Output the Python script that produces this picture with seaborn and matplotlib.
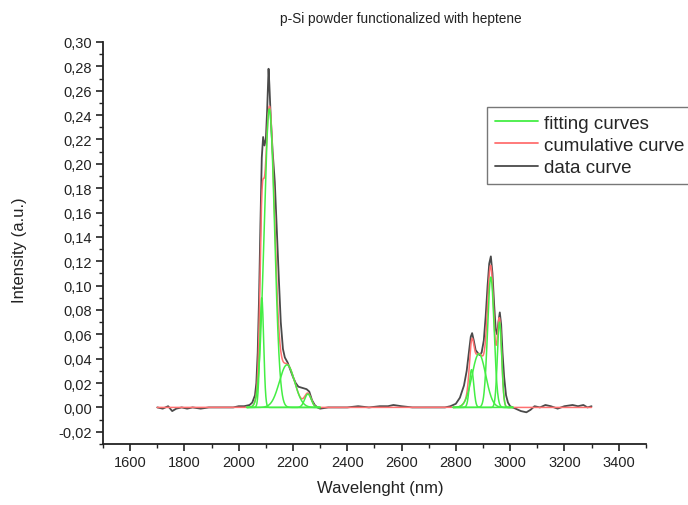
import numpy as np
import pandas as pd
import matplotlib
matplotlib.use("Agg")
import matplotlib.pyplot as plt
import seaborn as sns
from matplotlib.lines import Line2D
from matplotlib.ticker import MultipleLocator, FuncFormatter

# ---- data ----
# fitted peaks: centre (nm), height (a.u.), width sigma (nm)
peak_centers = [2085, 2113, 2178, 2255, 2858, 2885, 2929, 2961]
peak_heights = [0.090, 0.245, 0.035, 0.011, 0.031, 0.044, 0.107, 0.070]
peak_sigmas = [7, 19, 28, 12, 8, 25, 12, 8]
peak_ranges = [(2030, 2300)] * 4 + [(2790, 3010)] * 4

# measured spectrum (data curve)
data_wl = [1700, 1720, 1740, 1755, 1770, 1790, 1810, 1830, 1860, 1890, 1920, 1950,
           1980, 2000, 2020, 2040, 2050, 2060, 2065, 2070, 2075, 2080, 2085, 2090,
           2095, 2100, 2105, 2110, 2113, 2118, 2125, 2133, 2140, 2148, 2155, 2163,
           2170, 2180, 2190, 2200, 2210, 2220, 2235, 2250, 2260, 2270, 2280, 2290,
           2300, 2330, 2360, 2400, 2440, 2480, 2520, 2550, 2570, 2600, 2640, 2680,
           2720, 2760, 2780, 2800, 2815, 2830, 2840, 2848, 2855, 2860, 2866, 2873,
           2880, 2887, 2895, 2903, 2910, 2917, 2923, 2929, 2935, 2941, 2947, 2952,
           2957, 2962, 2967, 2972, 2978, 2985, 2992, 3000, 3020, 3040, 3060, 3075,
           3090, 3110, 3130, 3150, 3175, 3200, 3230, 3250, 3270, 3285, 3300]
data_int = [0.000, -0.001, 0.001, -0.003, -0.001, 0.000, -0.001, 0.000, -0.001, 0.000, 0.000, 0.000,
            0.000, 0.001, 0.001, 0.002, 0.004, 0.010, 0.020, 0.045, 0.090, 0.150, 0.205, 0.222,
            0.215, 0.220, 0.245, 0.278, 0.265, 0.238, 0.210, 0.185, 0.148, 0.105, 0.070, 0.048,
            0.041, 0.037, 0.031, 0.025, 0.020, 0.017, 0.016, 0.015, 0.013, 0.006, 0.002, 0.000,
            -0.001, 0.000, 0.000, 0.000, 0.001, 0.000, 0.001, 0.001, 0.002, 0.001, 0.000, 0.000,
            0.000, 0.000, 0.001, 0.003, 0.008, 0.018, 0.030, 0.045, 0.058, 0.061, 0.055, 0.047,
            0.045, 0.043, 0.045, 0.055, 0.075, 0.100, 0.118, 0.124, 0.110, 0.085, 0.064, 0.060,
            0.070, 0.078, 0.068, 0.045, 0.025, 0.010, 0.004, 0.001, -0.001, -0.003, -0.004, -0.002,
            0.001, 0.000, 0.002, 0.001, -0.001, 0.001, 0.002, 0.001, 0.002, 0.000, 0.001]

title = "p-Si powder functionalized with heptene"
xlabel = "Wavelenght (nm)"
ylabel = "Intensity (a.u.)"
legend_labels = ["fitting curves", "cumulative curve", "data curve"]

# ---- build curves ----
grid = np.arange(1700, 3301, 1.0)
cumulative = np.zeros_like(grid)
fit_frames = []
for i, (c, h, s, (a, b)) in enumerate(zip(peak_centers, peak_heights, peak_sigmas, peak_ranges)):
    g = h * np.exp(-0.5 * ((grid - c) / s) ** 2)
    cumulative += g
    m = (grid >= a) & (grid <= b)
    fit_frames.append(pd.DataFrame({"wl": grid[m], "I": g[m], "peak": i}))
fits = pd.concat(fit_frames, ignore_index=True)
cum_df = pd.DataFrame({"wl": grid, "I": cumulative})
data_df = pd.DataFrame({"wl": data_wl, "I": data_int})

# ---- figure ----
sns.set_theme(style="ticks")
plt.rcParams["font.family"] = ["Liberation Sans", "DejaVu Sans"]

fig = plt.figure(figsize=(6.88, 5.06), dpi=100)
ax = fig.add_axes([0.1497, 0.1206, 0.789, 0.7945])

green = "#44ee44"
red = "#ff7070"
dark = "#4a4a4a"

sns.lineplot(data=data_df, x="wl", y="I", color=dark, lw=1.3, ax=ax, legend=False)
sns.lineplot(data=cum_df, x="wl", y="I", color=red, lw=1.1, ax=ax, legend=False)
sns.lineplot(data=fits, x="wl", y="I", units="peak", estimator=None, color=green,
             lw=1.1, ax=ax, legend=False)

ax.set_xlim(1500, 3500)
ax.set_ylim(-0.03, 0.30)
ax.xaxis.set_major_locator(MultipleLocator(200))
ax.xaxis.set_minor_locator(MultipleLocator(100))
ax.yaxis.set_major_locator(MultipleLocator(0.02))
ax.yaxis.set_minor_locator(MultipleLocator(0.01))

def ylab(v, pos):
    if v < -0.021 or v > 0.301:
        return ""
    return f"{v:.2f}".replace(".", ",").replace("-0,00", "0,00")

ax.yaxis.set_major_formatter(FuncFormatter(ylab))
ax.xaxis.set_major_formatter(FuncFormatter(lambda v, p: "" if v < 1550 or v > 3450 else f"{v:.0f}"))

for sp in ["top", "right"]:
    ax.spines[sp].set_visible(False)
for sp in ["left", "bottom"]:
    ax.spines[sp].set_color("#222222")
    ax.spines[sp].set_linewidth(1.3)

ax.tick_params(axis="both", which="major", direction="out", length=5, width=1.2,
               color="#222222", labelsize=10.5, labelcolor="#222222", pad=3)
ax.tick_params(axis="both", which="minor", direction="out", length=3, width=1.0, color="#222222")

ax.set_xlabel(xlabel, fontsize=12, color="#222222")
ax.xaxis.set_label_coords((380 - 103) / 543, -(481 - 445) / 402)
ax.set_ylabel(ylabel, fontsize=12, color="#222222")
ax.yaxis.set_label_coords(-(103 - 27) / 543, (445 - 250) / 402)
fig.text(401 / 688, 1 - 19 / 506, title, ha="center", va="center", fontsize=9.8, color="#222222")

handles = [Line2D([], [], color=green, lw=1.3),
           Line2D([], [], color=red, lw=1.3),
           Line2D([], [], color=dark, lw=1.3)]
leg = ax.legend(handles, legend_labels, loc="upper left", bbox_to_anchor=(487 / 688, 1 - 108 / 506),
                bbox_transform=fig.transFigure, fontsize=13.5, frameon=True, fancybox=False,
                edgecolor="#555555", handlelength=2.3, handletextpad=0.35, borderpad=0.4,
                labelspacing=0.28, borderaxespad=0)
leg.get_frame().set_linewidth(1.0)

ax.set_facecolor("white")
fig.patch.set_facecolor("white")
fig.savefig("out.png", dpi=100)
